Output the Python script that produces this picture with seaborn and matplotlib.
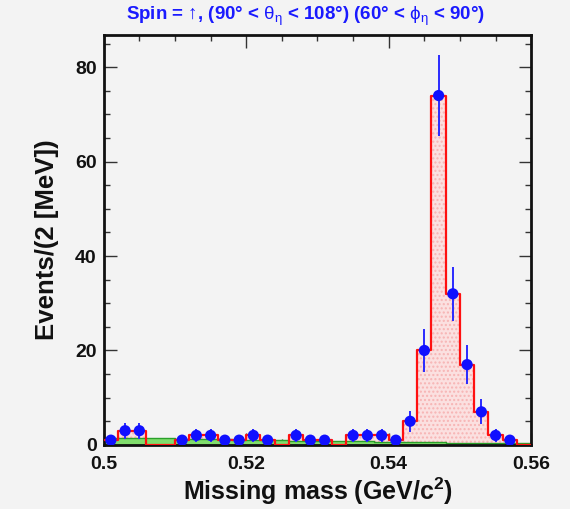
import numpy as np
import pandas as pd
import matplotlib
matplotlib.use("Agg")
import matplotlib.pyplot as plt
import seaborn as sns
from matplotlib.ticker import MultipleLocator

sns.set_style("ticks")
plt.rcParams['font.family'] = ['Liberation Sans', 'DejaVu Sans']
plt.rcParams['mathtext.fontset'] = 'custom'
plt.rcParams['mathtext.rm'] = 'Liberation Sans'
plt.rcParams['mathtext.it'] = 'Liberation Sans'
plt.rcParams['mathtext.bf'] = 'Liberation Sans:bold'
plt.rcParams['text.color'] = '#111111'
plt.rcParams['axes.labelcolor'] = '#111111'
plt.rcParams['xtick.labelcolor'] = '#111111'
plt.rcParams['ytick.labelcolor'] = '#111111'

# Bin edges: 0.500 .. 0.560 GeV in 2 MeV bins
bin_lo = 0.500
bin_hi = 0.560
n_bins = 30

# Data counts per bin
counts = [1, 3, 3, 0, 0, 1, 2, 2, 1, 1,
          2, 1, 0, 2, 1, 1, 0, 2, 2, 2,
          1, 5, 20, 74, 32, 17, 7, 2, 1, 0]

# Background (green) per bin
background = [1.5, 1.5, 1.45, 1.4, 1.35, 1.3, 1.25, 1.2, 1.15, 1.1,
              1.05, 1.0, 0.95, 0.9, 0.85, 0.82, 0.78, 0.75, 0.72, 0.68,
              0.65, 0.6, 0.57, 0.54, 0.5, 0.47, 0.44, 0.4, 0.37, 0.35]

x_ticks = [0.50, 0.52, 0.54, 0.56]
x_ticklabels = ["0.5", "0.52", "0.54", "0.56"]
y_ticks = [0, 20, 40, 60, 80]

edges = np.linspace(bin_lo, bin_hi, n_bins + 1)
centers = (edges[:-1] + edges[1:]) / 2
df = pd.DataFrame({"mass": centers, "counts": np.array(counts, float),
                   "bkg": np.array(background, float)})
pts = df[df["counts"] > 0].copy()
pts["err"] = np.sqrt(pts["counts"])

hist_kw = dict(bins=n_bins, binrange=(bin_lo, bin_hi), element="step")

bg = "#f3f3f3"
fig = plt.figure(figsize=(5.7, 5.09), dpi=100, facecolor=bg)
ax = fig.add_axes([0.182, 0.126, 0.750, 0.805])
ax.set_facecolor(bg)

# pink filled signal histogram
sns.histplot(data=df, x="mass", weights="counts", fill=True,
             facecolor="#fbe0e0", edgecolor="#f7b4b4", hatch="....",
             linewidth=0, alpha=1, ax=ax, zorder=1, **hist_kw)
# green background
sns.histplot(data=df, x="mass", weights="bkg", fill=True,
             facecolor="#80dd6c", edgecolor="#2aa02a", linewidth=1.0,
             alpha=1, ax=ax, zorder=2, **hist_kw)
# red outline
sns.histplot(data=df, x="mass", weights="counts", fill=False,
             color="#ff1010", linewidth=1.6, ax=ax, zorder=3, **hist_kw)

# data points
ax.errorbar(pts["mass"], pts["counts"], yerr=pts["err"], fmt="none",
            ecolor="#2a2aff", elinewidth=1.4, zorder=4)
sns.scatterplot(data=pts, x="mass", y="counts", color="#1010ff", s=65,
                edgecolor="none", ax=ax, zorder=5)

ax.set_xlim(bin_lo, bin_hi)
ax.set_ylim(0, 86.8)
ax.set_xticks(x_ticks)
ax.set_xticklabels(x_ticklabels)
ax.set_yticks(y_ticks)
ax.xaxis.set_minor_locator(MultipleLocator(0.005))
ax.yaxis.set_minor_locator(MultipleLocator(5))
ax.tick_params(which="both", direction="in", top=True, right=True,
               labelsize=14, width=1.0, color="#333333")
ax.tick_params(which="major", length=9)
ax.tick_params(axis="x", which="major", pad=8)
ax.tick_params(axis="y", which="major", pad=5)
ax.tick_params(which="minor", length=4)
for lbl in ax.get_xticklabels() + ax.get_yticklabels():
    lbl.set_fontweight("bold")
for sp in ax.spines.values():
    sp.set_linewidth(2.0)
    sp.set_color("#111111")

ax.set_xlabel("Missing mass (GeV/c$^\\mathbf{2}$)", fontsize=18, fontweight="bold", labelpad=2)
ax.set_ylabel("Events/(2 [MeV])", fontsize=18.5, fontweight="bold", labelpad=12)

fig.text(0.535, 0.968,
         "Spin = \u2191, (90\u00b0 < $\\theta_{\\eta}$ < 108\u00b0) (60\u00b0 < $\\phi_{\\eta}$ < 90\u00b0)",
         ha="center", va="center", color="#1a1aff", fontsize=13.5, fontweight="bold")

fig.savefig("out.png", dpi=100, facecolor=bg)
